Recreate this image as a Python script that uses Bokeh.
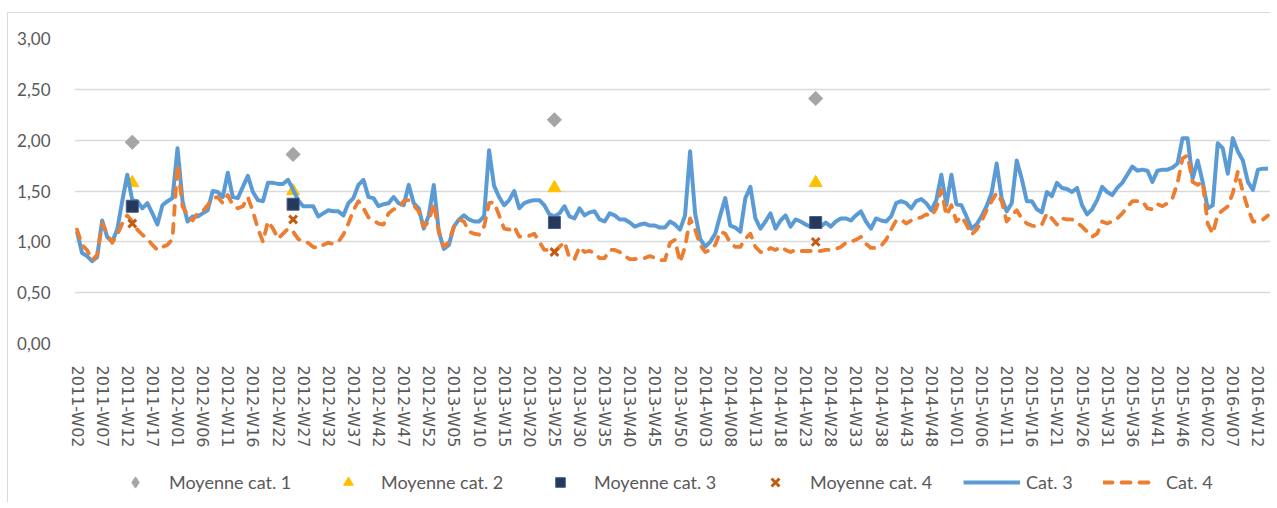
import numpy as np
from bokeh.plotting import figure
from bokeh.layouts import column
from bokeh.models import (ColumnDataSource, FixedTicker, CustomJSTickFormatter,
                          Range1d, Legend, LegendItem)
from bokeh.embed import file_html
from bokeh.resources import INLINE

# ---- categories (ISO weeks present in the data) ----
year_weeks = [
    ("2011", list(range(2, 22))),
    ("2012", [w for w in range(1, 53) if w != 19]),
    ("2013", list(range(1, 53))),
    ("2014", list(range(1, 53))),
    ("2015", list(range(1, 51))),
    ("2016", list(range(2, 15))),
]
weeks = [f"{y}-W{w:02d}" for y, ws in year_weeks for w in ws]

cat3 = [1.10, 0.89, 0.86, 0.81, 0.85, 1.21, 1.05, 1.00, 1.12, 1.40,
        1.66, 1.41, 1.40, 1.33, 1.38, 1.28, 1.17, 1.36, 1.40, 1.43,
        1.92, 1.40, 1.20, 1.25, 1.25, 1.28, 1.31, 1.50, 1.49, 1.44,
        1.68, 1.44, 1.43, 1.54, 1.65, 1.49, 1.41, 1.40, 1.58, 1.58,
        1.57, 1.57, 1.61, 1.51, 1.41, 1.35, 1.35, 1.35, 1.25, 1.28,
        1.31, 1.30, 1.30, 1.26, 1.38, 1.43, 1.56, 1.61, 1.44, 1.43,
        1.35, 1.37, 1.38, 1.44, 1.38, 1.36, 1.56, 1.38, 1.33, 1.13,
        1.26, 1.56, 1.10, 0.93, 0.97, 1.15, 1.22, 1.26, 1.22, 1.20,
        1.20, 1.25, 1.90, 1.55, 1.44, 1.36, 1.41, 1.50, 1.33, 1.38,
        1.40, 1.41, 1.41, 1.36, 1.27, 1.25, 1.28, 1.35, 1.25, 1.23,
        1.33, 1.26, 1.29, 1.30, 1.22, 1.20, 1.28, 1.26, 1.22, 1.22,
        1.19, 1.15, 1.17, 1.18, 1.16, 1.16, 1.14, 1.14, 1.20, 1.17,
        1.12, 1.26, 1.89, 1.28, 1.03, 0.95, 1.00, 1.08, 1.26, 1.43,
        1.16, 1.14, 1.10, 1.43, 1.54, 1.23, 1.13, 1.20, 1.28, 1.13,
        1.21, 1.26, 1.15, 1.22, 1.20, 1.17, 1.15, 1.17, 1.15, 1.19,
        1.15, 1.20, 1.23, 1.23, 1.21, 1.26, 1.30, 1.20, 1.13, 1.23,
        1.21, 1.20, 1.25, 1.38, 1.40, 1.38, 1.33, 1.40, 1.42, 1.38,
        1.31, 1.41, 1.66, 1.36, 1.66, 1.37, 1.36, 1.25, 1.13, 1.17,
        1.25, 1.35, 1.48, 1.77, 1.43, 1.30, 1.38, 1.80, 1.62, 1.40,
        1.40, 1.32, 1.29, 1.49, 1.45, 1.58, 1.53, 1.52, 1.49, 1.53,
        1.36, 1.27, 1.32, 1.41, 1.54, 1.49, 1.46, 1.53, 1.58, 1.66,
        1.74, 1.70, 1.71, 1.70, 1.59, 1.70, 1.71, 1.71, 1.73, 1.77,
        2.02, 2.02, 1.62, 1.80, 1.59, 1.33, 1.36, 1.97, 1.92, 1.67,
        2.02, 1.89, 1.80, 1.59, 1.51, 1.71, 1.72, 1.72]

cat4 = [1.12, 0.97, 0.92, 0.82, 0.87, 1.18, 1.08, 0.99, 1.07, 1.18,
        1.26, 1.20, 1.12, 1.07, 1.03, 0.97, 0.92, 0.95, 0.97, 1.03,
        1.76, 1.35, 1.26, 1.21, 1.28, 1.30, 1.36, 1.43, 1.44, 1.38,
        1.46, 1.36, 1.33, 1.35, 1.44, 1.30, 1.13, 1.00, 1.20, 1.13,
        1.03, 1.08, 1.13, 1.10, 1.03, 1.00, 0.99, 0.95, 0.94, 0.97,
        0.99, 0.98, 1.00, 1.07, 1.18, 1.31, 1.40, 1.33, 1.24, 1.21,
        1.18, 1.17, 1.28, 1.32, 1.33, 1.40, 1.41, 1.36, 1.30, 1.15,
        1.20, 1.38, 1.10, 0.95, 1.00, 1.15, 1.22, 1.20, 1.10, 1.08,
        1.07, 1.15, 1.38, 1.39, 1.26, 1.13, 1.12, 1.15, 1.05, 1.06,
        1.06, 1.08, 1.00, 0.92, 0.92, 0.90, 0.95, 1.00, 0.84, 0.83,
        0.95, 0.90, 0.91, 0.89, 0.84, 0.84, 0.92, 0.92, 0.90, 0.86,
        0.83, 0.83, 0.84, 0.84, 0.86, 0.84, 0.82, 0.82, 0.99, 1.02,
        0.80, 0.95, 1.23, 1.12, 0.97, 0.90, 0.92, 0.97, 1.10, 1.08,
        0.99, 0.95, 0.95, 1.03, 1.08, 0.95, 0.90, 0.90, 0.94, 0.92,
        0.95, 0.92, 0.90, 0.92, 0.91, 0.91, 0.91, 0.91, 0.91, 0.92,
        0.92, 0.93, 0.95, 0.99, 1.00, 1.02, 1.05, 0.98, 0.94, 0.94,
        0.96, 1.02, 1.12, 1.21, 1.22, 1.18, 1.21, 1.23, 1.24, 1.27,
        1.25, 1.33, 1.51, 1.26, 1.36, 1.20, 1.25, 1.17, 1.07, 1.12,
        1.20, 1.31, 1.40, 1.48, 1.40, 1.20, 1.26, 1.31, 1.23, 1.18,
        1.16, 1.15, 1.17, 1.28, 1.23, 1.17, 1.23, 1.22, 1.22, 1.19,
        1.15, 1.10, 1.05, 1.08, 1.20, 1.18, 1.20, 1.23, 1.28, 1.34,
        1.40, 1.40, 1.40, 1.33, 1.32, 1.37, 1.35, 1.38, 1.43, 1.58,
        1.82, 1.85, 1.59, 1.56, 1.59, 1.18, 1.08, 1.27, 1.31, 1.35,
        1.48, 1.69, 1.49, 1.33, 1.20, 1.20, 1.22, 1.26]

# yearly averages, placed at these weeks
avg_weeks = ["2011-W13", "2012-W25", "2013-W25", "2014-W25"]
moy_cat1 = [1.98, 1.86, 2.20, 2.41]
moy_cat2 = [1.58, 1.50, 1.53, 1.58]
moy_cat3 = [1.35, 1.37, 1.19, 1.19]
moy_cat4 = [1.18, 1.22, 0.90, 1.00]

y_ticks = [0.0, 0.5, 1.0, 1.5, 2.0, 2.5, 3.0]

TEXT = "#595959"
GRID = "#d9d9d9"
BORDER = "1px solid #d9d9d9"

STYLE = {
    "m1": dict(marker="square", angle=np.pi / 4, fill_color="#A5A5A5", line_color="#A5A5A5"),
    "m2": dict(marker="triangle", fill_color="#FFC000", line_color="#FFC000"),
    "m3": dict(marker="square", fill_color="#26395A", line_color="#3E5F8C", line_width=1),
    "m4": dict(marker="x", line_color="#C55A11", line_width=3),
    "c3": dict(line_color="#5B9BD5", line_width=4, line_join="round"),
    "c4": dict(line_color="#ED7D31", line_width=3.8, line_dash="9 9",
               line_cap="round", line_join="round"),
}

idx = list(range(len(weeks)))
avg_idx = [weeks.index(w) for w in avg_weeks]
line_src = ColumnDataSource(dict(x=idx, c3=cat3, c4=cat4))
avg_src = ColumnDataSource(dict(x=avg_idx, m1=moy_cat1, m2=moy_cat2,
                                m3=moy_cat3, m4=moy_cat4))

p = figure(width=1263, height=450, output_backend="svg", toolbar_location=None,
           x_range=Range1d(-0.5, len(weeks) - 0.5), y_range=Range1d(0, 3),
           min_border_left=66, min_border_right=1, min_border_top=25,
           min_border_bottom=120, margin=(12, 0, 0, 7),
           styles={"border-left": BORDER, "border-top": BORDER})
p.outline_line_color = None
p.background_fill_color = "white"
p.border_fill_color = "white"

# axes
p.xaxis.ticker = FixedTicker(ticks=list(range(0, len(weeks), 5)))
p.xaxis.major_label_overrides = {i: weeks[i] for i in range(0, len(weeks), 5)}
p.xaxis.major_label_orientation = "vertical"
p.xaxis.major_label_text_font = "DejaVu Sans"
p.xaxis.major_label_text_font_size = "16px"
p.xaxis.major_label_text_color = TEXT
p.xaxis.major_label_standoff = 16
p.xaxis.axis_line_color = None
p.xaxis.major_tick_line_color = None
p.xaxis.minor_tick_line_color = None

p.yaxis.ticker = FixedTicker(ticks=y_ticks)
p.yaxis.formatter = CustomJSTickFormatter(code="return tick.toFixed(2).replace('.', ',');")
p.yaxis.major_label_text_font = "Lato"
p.yaxis.major_label_text_font_size = "17px"
p.yaxis.major_label_text_color = TEXT
p.yaxis.major_label_standoff = 18
p.yaxis.axis_line_color = None
p.yaxis.major_tick_line_color = None
p.yaxis.minor_tick_line_color = None

p.xgrid.grid_line_color = None
p.ygrid.grid_line_color = GRID
p.ygrid.grid_line_width = 1.3

# glyphs
p.scatter("x", "m2", source=avg_src, size=13, **STYLE["m2"])
p.line("x", "c3", source=line_src, **STYLE["c3"])
p.line("x", "c4", source=line_src, **STYLE["c4"])
p.scatter("x", "m1", source=avg_src, size=10, **STYLE["m1"])
p.scatter("x", "m3", source=avg_src, size=12, **STYLE["m3"])
p.scatter("x", "m4", source=avg_src, size=11, **STYLE["m4"])

# ---- legend strip below the chart (frame aligned with the chart frame) ----
lg = figure(width=1263, height=40, output_backend="svg", toolbar_location=None,
            x_range=Range1d(0, 1196), y_range=Range1d(0, 40),
            x_axis_type=None, y_axis_type=None,
            min_border_left=66, min_border_right=1, min_border_top=0,
            min_border_bottom=0, margin=(0, 0, 0, 7),
            styles={"border-left": BORDER})
lg.outline_line_color = None
lg.background_fill_color = "white"
lg.border_fill_color = "white"

# swatch-only renderers: points far outside the visible range
swatch = ColumnDataSource(dict(x=[0, 1], y=[-100, -100]))
diamond_style = dict(STYLE["m1"], marker="diamond", angle=0)
# (label, renderer, left, bottom, glyph box w, glyph box h, standoff)
legend_specs = [
    ("Moyenne cat. 1", lg.scatter("x", "y", source=swatch, **diamond_style), 47, 5, 28, 30, 20),
    ("Moyenne cat. 2", lg.scatter("x", "y", source=swatch, **STYLE["m2"]), 262, 8, 24, 24, 21),
    ("Moyenne cat. 3", lg.scatter("x", "y", source=swatch, **STYLE["m3"]), 474, 8, 24, 24, 22),
    ("Moyenne cat. 4", lg.scatter("x", "y", source=swatch, **STYLE["m4"]), 687, 6, 28, 28, 21),
    ("Cat. 3", lg.line("x", "y", source=swatch, **STYLE["c3"]), 889, 8, 57, 24, 6),
    ("Cat. 4", lg.line("x", "y", source=swatch, **STYLE["c4"]), 1029, 8, 52, 24, 11),
]
for label, rend, fx, fy, gw, gh, standoff in legend_specs:
    leg = Legend(items=[LegendItem(label=label, renderers=[rend])],
                 location=(fx, fy), orientation="horizontal",
                 glyph_width=gw, glyph_height=gh, label_height=gh,
                 label_standoff=standoff, padding=0, margin=0, spacing=0,
                 border_line_color=None, background_fill_alpha=0,
                 label_text_font="Lato", label_text_font_size="18px",
                 label_text_color=TEXT)
    lg.add_layout(leg)

layout = column(p, lg, spacing=0)
open("out.html", "w").write(file_html(layout, INLINE))
